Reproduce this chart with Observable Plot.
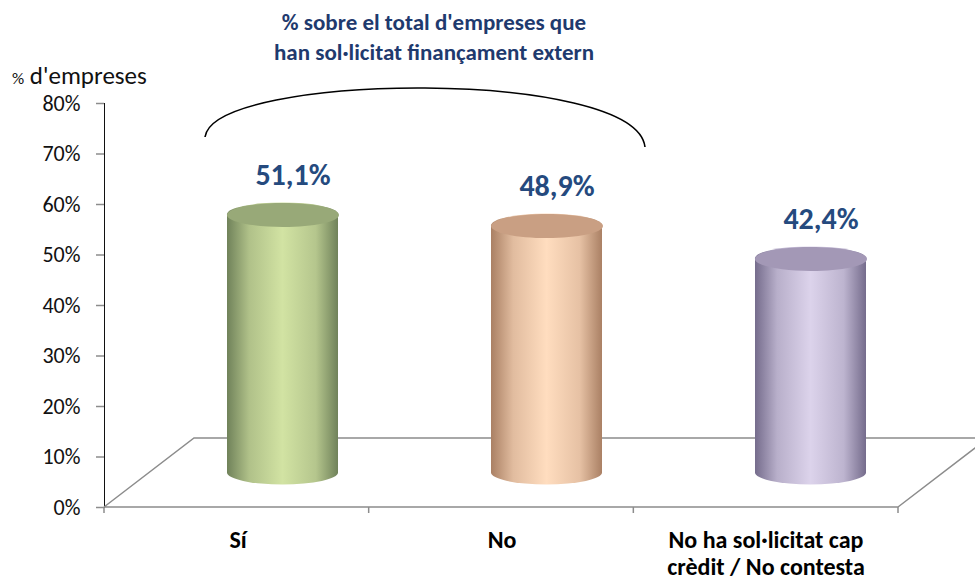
<!DOCTYPE html>
<html>
<head>
<meta charset="utf-8">
<script src="https://cdn.jsdelivr.net/npm/d3@7"></script>
<script src="https://cdn.jsdelivr.net/npm/@observablehq/plot@0.6"></script>
<style>
  html, body { margin: 0; padding: 0; background: #fff; }
  #wrap { position: relative; width: 975px; height: 581px; overflow: hidden; font-family: Carlito, Lato, "Open Sans", sans-serif; }
  #title { position: absolute; left: 234px; top: 7px; width: 400px; text-align: center; font-weight: bold; font-size: 23px; line-height: 30px; color: #1F3A6E; white-space: nowrap; }
  #ylab { position: absolute; left: 12px; top: 63px; font-size: 25px; line-height: 25px; color: #111; white-space: nowrap; }
  #ylab small { font-size: 17px; }
  svg [aria-label^="y-axis"] line, svg [aria-label^="y-axis"] path { stroke: #8c8c8c; stroke-width: 1.5; }
  svg [aria-label^="y-axis"] text { font-size: 22px; }
</style>
</head>
<body>
<div id="wrap">
  <div id="chart"></div>
  <div id="title">% sobre el total d'empreses que<br>han sol·licitat finançament extern</div>
  <div id="ylab"><small>%</small> d'empreses</div>
</div>
<script>
// ---- data ----
const categories = ["Sí", "No", "No ha sol·licitat cap\ncrèdit / No contesta"];
const values = [51.1, 48.9, 42.4];
const valueLabels = ["51,1%", "48,9%", "42,4%"];
const yTicks = [0, 10, 20, 30, 40, 50, 60, 70, 80];

// ---- styling (not data) ----
const palette = [
  {id: "cyl0", edge: "#70825A", mid: "#D2E3A3", top: "#98A978"},
  {id: "cyl1", edge: "#AA8064", mid: "#FFDDBF", top: "#C99F83"},
  {id: "cyl2", edge: "#756C8C", mid: "#DCD3EB", top: "#A398B6"}
];
const DX = 90, DY = 69;           // 3D floor depth
const CX = DX / 2, CY = -DY / 2;  // cylinder offset (mid-depth)
const RX = 56, RY = 12;

const data = categories.map((c, i) => ({
  cat: c, value: values[i], label: valueLabels[i],
  body: `url(#${palette[i].id})`, top: palette[i].top
}));

const ellipseSymbol = {
  draw(ctx, size) {
    const rx = Math.sqrt(size / Math.PI), ry = rx * RY / RX, k = 0.5523;
    ctx.moveTo(rx, 0);
    ctx.bezierCurveTo(rx, ry * k, rx * k, ry, 0, ry);
    ctx.bezierCurveTo(-rx * k, ry, -rx, ry * k, -rx, 0);
    ctx.bezierCurveTo(-rx, -ry * k, -rx * k, -ry, 0, -ry);
    ctx.bezierCurveTo(rx * k, -ry, rx, -ry * k, rx, 0);
    ctx.closePath();
  }
};

function backdrop(index, scales) {
  const x = scales.x, y = scales.y;
  const g = d3.create("svg:g");
  const defs = g.append("defs");
  palette.forEach(p => {
    const lg = defs.append("linearGradient").attr("id", p.id).attr("x1", 0).attr("x2", 1).attr("y1", 0).attr("y2", 0);
    [[0, p.edge], [0.2, d3.interpolateRgb(p.edge, p.mid)(0.65)], [0.5, p.mid], [0.8, d3.interpolateRgb(p.edge, p.mid)(0.7)], [1, p.edge]]
      .forEach(([o, c]) => lg.append("stop").attr("offset", o).attr("stop-color", c));
  });
  const [r0, r1] = x.range();
  const y0 = y(0);
  const n = x.domain().length;
  const step = (r1 - r0) / n;
  g.append("path")
    .attr("d", `M${r0},${y0}L${r0 + DX},${y0 - DY}L${r1 + DX},${y0 - DY}M${r1},${y0}L${r1 + DX},${y0 - DY}M${r0},${y0}L${r1},${y0}`)
    .attr("fill", "none").attr("stroke", "#8c8c8c").attr("stroke-width", 1.5);
  for (let i = 0; i <= n; i++) {
    const xx = r0 + i * step;
    g.append("line").attr("x1", xx).attr("x2", xx).attr("y1", y0).attr("y2", y0 + 6)
      .attr("stroke", "#8c8c8c").attr("stroke-width", 1.5);
  }
  return g.node();
}

function annotation(index, scales) {
  const g = d3.create("svg:g");
  g.append("path")
    .attr("d", "M205,137C214,72 636,68 645,147")
    .attr("fill", "none").attr("stroke", "#000").attr("stroke-width", 1.6);
  return g.node();
}

const plot = Plot.plot({
  width: 975,
  height: 581,
  marginLeft: 104,
  marginRight: 77,
  marginTop: 103,
  marginBottom: 74,
  style: {fontFamily: "Carlito, Lato, 'Open Sans', sans-serif", fontSize: "21px", background: "transparent", color: "#111", overflow: "visible"},
  x: {domain: categories, paddingInner: 0.58, paddingOuter: 0.29, axis: null},
  y: {domain: [0, 80], ticks: yTicks, tickFormat: d => d + "%", tickSize: 8, tickPadding: 16, line: true, label: null},
  color: {type: "identity"},
  marks: [
    backdrop,
    Plot.barY(data, {x: "cat", y: "value", fill: "body", rx: RX, ry: RY, insetTop: -RY, insetBottom: -RY, dx: CX, dy: CY}),
    Plot.dot(data, {x: "cat", y: "value", r: RX, symbol: ellipseSymbol, fill: "top", stroke: "none", dx: CX, dy: CY}),
    Plot.text(data, {x: "cat", y: "value", text: "label", dx: CX + 10, dy: -74, fontSize: 30, fontWeight: "bold", fill: "#254A7E"}),
    Plot.text(data, {x: "cat", text: "cat", frameAnchor: "bottom", lineAnchor: "top", dy: 22, lineHeight: 1.1, fontSize: 24, fontWeight: "bold", fill: "#000"}),
    annotation
  ]
});
document.getElementById("chart").appendChild(plot);
</script>
</body>
</html>
